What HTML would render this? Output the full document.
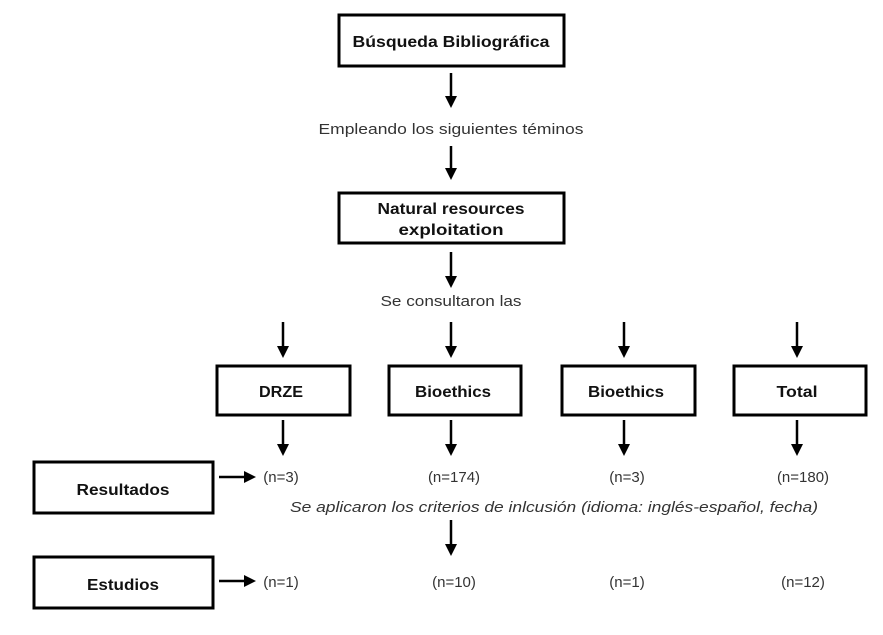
<!DOCTYPE html>
<html><head><meta charset="utf-8"><style>
body{margin:0;background:#fff;width:883px;height:630px;overflow:hidden}
svg text{font-family:"Liberation Sans",sans-serif}
</style></head><body>
<svg width="883" height="630" viewBox="0 0 883 630">
<defs><marker id="a" markerWidth="12" markerHeight="12" refX="6" refY="6" orient="auto" markerUnits="userSpaceOnUse"><path d="M0,0 L12,6 L0,12 Z" fill="#000"/></marker></defs>
<g fill="none" stroke="#000" stroke-width="3">
<rect x="339" y="15" width="225" height="51"/>
<rect x="339" y="193" width="225" height="50"/>
<rect x="217" y="366" width="133" height="49"/>
<rect x="389" y="366" width="132" height="49"/>
<rect x="562" y="366" width="133" height="49"/>
<rect x="734" y="366" width="132" height="49"/>
<rect x="34" y="462" width="179" height="51"/>
<rect x="34" y="557" width="179" height="51"/>
</g>
<g stroke="#000" stroke-width="2.5">
<path d="M451 73V102" marker-end="url(#a)"/>
<path d="M451 146V174" marker-end="url(#a)"/>
<path d="M451 252V282" marker-end="url(#a)"/>
<path d="M283 322V352" marker-end="url(#a)"/>
<path d="M451 322V352" marker-end="url(#a)"/>
<path d="M624 322V352" marker-end="url(#a)"/>
<path d="M797 322V352" marker-end="url(#a)"/>
<path d="M283 420V450" marker-end="url(#a)"/>
<path d="M451 420V450" marker-end="url(#a)"/>
<path d="M624 420V450" marker-end="url(#a)"/>
<path d="M797 420V450" marker-end="url(#a)"/>
<path d="M451 520V550" marker-end="url(#a)"/>
<path d="M219 477H250" marker-end="url(#a)"/>
<path d="M219 581H250" marker-end="url(#a)"/>
</g>
<g font-weight="bold" font-size="16" text-anchor="middle" fill="#111" lengthAdjust="spacingAndGlyphs">
<text x="451" y="47" textLength="197" lengthAdjust="spacingAndGlyphs">Búsqueda Bibliográfica</text>
<text x="451" y="214" textLength="147" lengthAdjust="spacingAndGlyphs">Natural resources</text>
<text x="451" y="235" textLength="105" lengthAdjust="spacingAndGlyphs">exploitation</text>
<text x="281" y="397" textLength="44" lengthAdjust="spacingAndGlyphs">DRZE</text>
<text x="453" y="397" textLength="76" lengthAdjust="spacingAndGlyphs">Bioethics</text>
<text x="626" y="397" textLength="76" lengthAdjust="spacingAndGlyphs">Bioethics</text>
<text x="797" y="397" textLength="41" lengthAdjust="spacingAndGlyphs">Total</text>
<text x="123" y="495" textLength="93" lengthAdjust="spacingAndGlyphs">Resultados</text>
<text x="123" y="590" textLength="72" lengthAdjust="spacingAndGlyphs">Estudios</text>
</g>
<g font-size="15" text-anchor="middle" fill="#333">
<text x="451" y="134" textLength="265" lengthAdjust="spacingAndGlyphs">Empleando los siguientes téminos</text>
<text x="451" y="306" textLength="141" lengthAdjust="spacingAndGlyphs">Se consultaron las</text>
<text x="281" y="482">(n=3)</text>
<text x="454" y="482">(n=174)</text>
<text x="627" y="482">(n=3)</text>
<text x="803" y="482">(n=180)</text>
<text x="281" y="587">(n=1)</text>
<text x="454" y="587">(n=10)</text>
<text x="627" y="587">(n=1)</text>
<text x="803" y="587">(n=12)</text>
<text x="554" y="512" font-style="italic" textLength="528" lengthAdjust="spacingAndGlyphs">Se aplicaron los criterios de inlcusión (idioma: inglés-español, fecha)</text>
</g>
</svg>
</body></html>
